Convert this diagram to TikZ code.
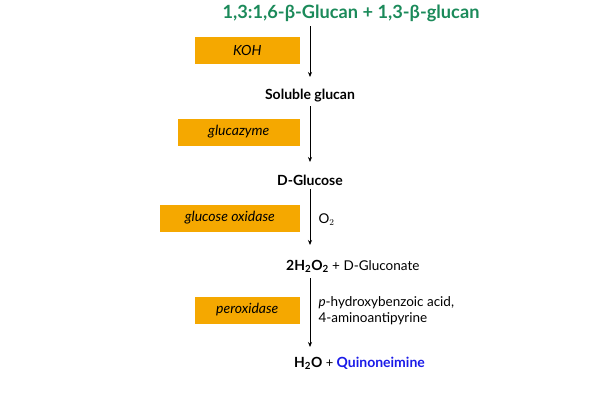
\documentclass[tikz,border=0pt]{standalone}
\usepackage{fontspec}
\setmainfont{Lato}
\usetikzlibrary{arrows.meta}
\definecolor{org}{HTML}{F5A800}
\definecolor{grn}{HTML}{1B8A5A}
\definecolor{blu}{HTML}{1A1AE8}
\begin{document}
\begin{tikzpicture}[x=1pt,y=-1pt,
  enz/.style={fill=org,minimum height=27pt,anchor=east,font=\fontsize{14}{16}\selectfont\itshape},
  comp/.style={font=\fontsize{14}{16}\selectfont\bfseries},
  arr/.style={-{Stealth[length=5pt,width=4pt]},thick},
  side/.style={anchor=west,font=\fontsize{13.5}{16}\selectfont,align=left}]
\useasboundingbox (0,0) rectangle (600,400);
\node[font=\fontsize{18.2}{22}\selectfont\bfseries,text=grn] (t) at (351,13) {1,3:1,6-β-Glucan + 1,3-β-glucan};
\node[comp] (s) at (310,96) {Soluble glucan};
\node[comp] (g) at (310,180) {D-Glucose};
\node[anchor=west,inner sep=0] (h) at (286,266) {\fontsize{14}{16}\selectfont\bfseries 2H$_\mathbf{2}$O$_\mathbf{2}$\mdseries\fontsize{13.5}{16}\selectfont{} + D-Gluconate};
\node[anchor=west,inner sep=0] (q) at (294,363) {\fontsize{14}{16}\selectfont\bfseries H$_\mathbf{2}$O\mdseries\fontsize{13}{16}\selectfont{} + \bfseries\fontsize{14}{16}\selectfont\color{blu}Quinoneimine};
\coordinate (tx) at (310,26);
\coordinate (hx) at (310,278);
\coordinate (qx) at (310,347);
\draw[arr] (tx) -- (310,77);
\draw[arr] (s.south) -- (310,162);
\draw[arr] (g.south) -- (310,245);
\draw[arr] (hx) -- (qx);
\node[enz,minimum width=105pt] (e1) at (300,50) {KOH};
\node[enz,minimum width=122pt] (e2) at (300,132) {glucazyme};
\node[enz,minimum width=140pt] (e3) at (300,218) {glucose oxidase};
\node[enz,minimum width=105pt] (e4) at (300,310) {peroxidase};
\node[side] (o) at (315,220) {O$_2$};
\node[side] (p) at (315,311) {\textit{p}-hydroxybenzoic acid,\\4-aminoantipyrine};
\end{tikzpicture}
\end{document}
